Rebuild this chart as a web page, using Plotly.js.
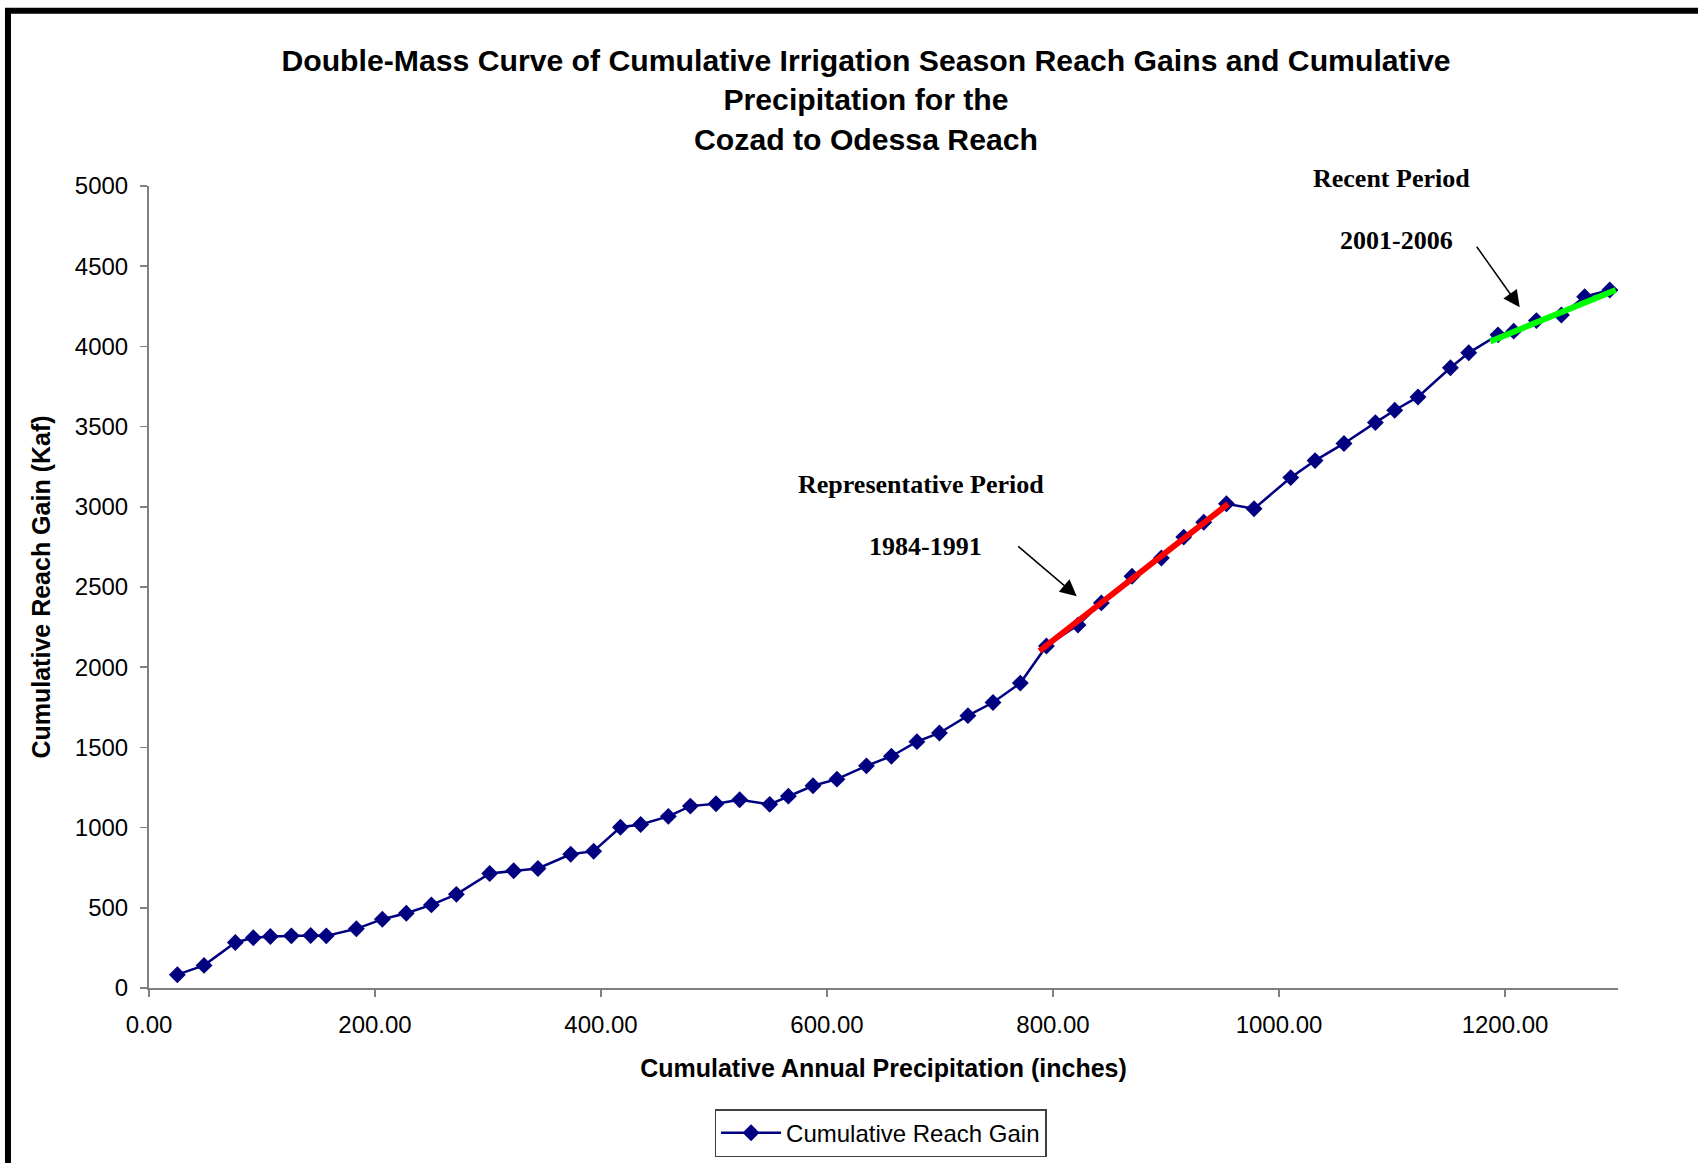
<!DOCTYPE html>
<html>
<head>
<meta charset="utf-8">
<script src="https://cdn.plot.ly/plotly-3.0.1.min.js"></script>
<style>
  html, body { margin: 0; padding: 0; background: #ffffff; }
  #chart { width: 1698px; height: 1163px; }
</style>
</head>
<body>
<div id="chart"></div>
<script>
// Cumulative annual precipitation (inches), 1949-2006
const cumPrecip = [25.1, 48.7, 76.4, 92.3, 107.4, 126.0, 143.1, 156.9, 183.5, 206.5,
  227.7, 249.9, 272.0, 301.5, 322.7, 344.2, 373.2, 393.5, 417.2, 435.1,
  459.6, 479.1, 501.8, 522.7, 549.3, 565.8, 587.6, 608.8, 634.9, 657.0,
  679.6, 699.5, 724.7, 746.9, 771.1, 794.2, 822.1, 842.8, 869.9, 895.9,
  915.7, 933.4, 953.5, 977.9, 1010.4, 1031.9, 1057.5, 1085.3, 1102.4, 1123.0,
  1151.7, 1167.9, 1193.8, 1207.7, 1227.8, 1249.9, 1270.5, 1292.7];
// Cumulative irrigation season reach gain (Kaf)
const cumGain = [83, 141, 284, 313, 321, 325, 327, 325, 369, 429,
  466, 518, 584, 714, 731, 745, 834, 853, 1002, 1019,
  1070, 1134, 1149, 1174, 1145, 1196, 1261, 1302, 1385, 1445,
  1536, 1590, 1698, 1780, 1901, 2132, 2263, 2401, 2567, 2681,
  2811, 2904, 3019, 2988, 3182, 3288, 3395, 3525, 3602, 3685,
  3867, 3960, 4072, 4095, 4161, 4196, 4310, 4352];

// Trend lines for the highlighted periods
const repTrendX = [788, 955];
const repTrendY = [2101, 3018];
const recentTrendX = [1187, 1298];
const recentTrendY = [4031, 4352];

const xTickVals = [0, 200, 400, 600, 800, 1000, 1200];
const yTickVals = [0, 500, 1000, 1500, 2000, 2500, 3000, 3500, 4000, 4500, 5000];

const seriesName = 'Cumulative Reach Gain';
const titleText = 'Double-Mass Curve of Cumulative Irrigation Season Reach Gains and Cumulative<br>Precipitation for the<br>Cozad to Odessa Reach';

const sans = 'Liberation Sans, Arial, sans-serif';
const serif = 'Liberation Serif, Times New Roman, serif';

const traces = [
  {
    x: cumPrecip, y: cumGain, type: 'scatter', mode: 'lines+markers',
    name: seriesName,
    line: { color: '#000080', width: 2.5 },
    marker: { symbol: 'diamond', size: 13, color: '#000080' }
  },
  {
    x: repTrendX, y: repTrendY, type: 'scatter', mode: 'lines',
    showlegend: false, hoverinfo: 'skip',
    line: { color: '#ff0000', width: 6 }
  },
  {
    x: recentTrendX, y: recentTrendY, type: 'scatter', mode: 'lines',
    showlegend: false, hoverinfo: 'skip',
    line: { color: '#00ff00', width: 6 }
  }
];

const layout = {
  width: 1698, height: 1163,
  paper_bgcolor: '#ffffff', plot_bgcolor: '#ffffff',
  margin: { l: 149, r: 80, t: 186, b: 175, autoexpand: false },
  showlegend: true,
  title: {
    text: titleText,
    font: { family: sans, size: 30.2, color: '#000000', weight: 'bold' },
    xref: 'container', x: 866 / 1698, xanchor: 'center',
    yref: 'container', y: 1 - 71 / 1163, yanchor: 'top'
  },
  xaxis: {
    range: [0, 1300], tickvals: xTickVals, tickformat: '.2f',
    ticks: 'outside', ticklen: 7, tickwidth: 1.5, tickcolor: '#808080',
    showline: true, linecolor: '#808080', linewidth: 2,
    showgrid: false, zeroline: false, automargin: false,
    ticklabelstandoff: 7,
    tickfont: { family: sans, size: 24, color: '#000000' },
    title: { text: 'Cumulative Annual Precipitation (inches)', standoff: 23,
      font: { family: sans, size: 25, color: '#000000', weight: 'bold' } }
  },
  yaxis: {
    range: [0, 5000], tickvals: yTickVals,
    ticks: 'outside', ticklen: 7, tickwidth: 1.5, tickcolor: '#808080',
    showline: true, linecolor: '#808080', linewidth: 2,
    showgrid: false, zeroline: false, automargin: false,
    ticklabelstandoff: 7,
    tickfont: { family: sans, size: 24, color: '#000000' },
    title: { text: 'Cumulative Reach Gain (Kaf)', standoff: 17,
      font: { family: sans, size: 25, color: '#000000', weight: 'bold' } }
  },
  legend: {
    x: 0.498, xanchor: 'center', y: -0.151, yanchor: 'top',
    bordercolor: '#404040', borderwidth: 1.5, bgcolor: '#ffffff',
    font: { family: sans, size: 24, color: '#000000' },
    itemwidth: 60
  },
  shapes: [
    { type: 'rect', xref: 'paper', yref: 'paper',
      x0: -0.096, x1: 1.08, y0: -0.26, y1: 1.2185,
      line: { color: '#000000', width: 6 }, fillcolor: 'rgba(0,0,0,0)', layer: 'above' }
  ],
  annotations: [
    { text: 'Recent Period', xref: 'paper', yref: 'paper', x: 0.8458, y: 1.0091,
      showarrow: false, xanchor: 'center', yanchor: 'middle',
      font: { family: serif, size: 26, color: '#000000', weight: 'bold' } },
    { text: '2001-2006', xref: 'paper', yref: 'paper', x: 0.8489, y: 0.9322,
      showarrow: false, xanchor: 'center', yanchor: 'middle',
      font: { family: serif, size: 26, color: '#000000', weight: 'bold' } },
    { text: 'Representative Period', xref: 'paper', yref: 'paper', x: 0.5255, y: 0.6272,
      showarrow: false, xanchor: 'center', yanchor: 'middle',
      font: { family: serif, size: 26, color: '#000000', weight: 'bold' } },
    { text: '1984-1991', xref: 'paper', yref: 'paper', x: 0.5285, y: 0.5499,
      showarrow: false, xanchor: 'center', yanchor: 'middle',
      font: { family: serif, size: 26, color: '#000000', weight: 'bold' } },
    { text: '', xref: 'x', yref: 'y', x: 821, y: 2443, ax: -60, ay: -51,
      showarrow: true, arrowhead: 2, arrowsize: 2.2, arrowwidth: 1.5, arrowcolor: '#000000', standoff: 0 },
    { text: '', xref: 'x', yref: 'y', x: 1213, y: 4244, ax: -44, ay: -62,
      showarrow: true, arrowhead: 2, arrowsize: 2.2, arrowwidth: 1.5, arrowcolor: '#000000', standoff: 0 }
  ]
};

Plotly.newPlot('chart', traces, layout, { displayModeBar: false, staticPlot: true });
</script>
</body>
</html>
